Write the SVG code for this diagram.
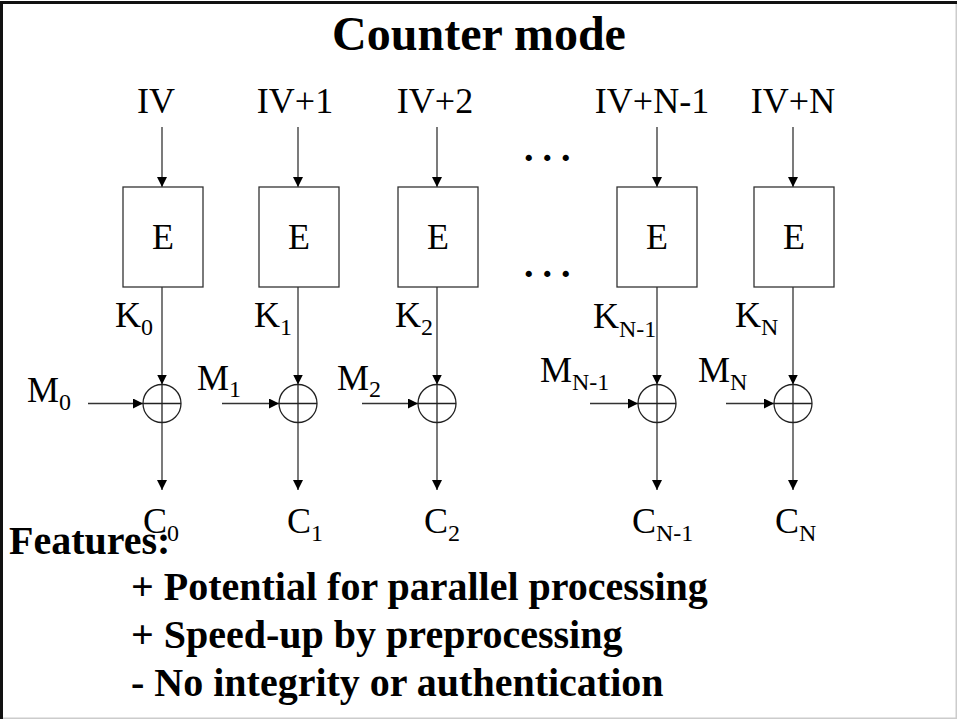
<svg xmlns="http://www.w3.org/2000/svg" width="957" height="719" viewBox="0 0 957 719">
<style>
.t{font-family:"Liberation Serif","Times New Roman",serif;fill:#000}
.lbl{font-size:36px}
.sub{font-size:24px}
.b{font-weight:bold}
.box{fill:#fff;stroke:#333;stroke-width:1.3}
.ln{stroke:#333;stroke-width:1.3;fill:none}
.xor{fill:none;stroke:#222;stroke-width:1.3}
</style>
<defs>
<marker id="ah" viewBox="0 0 10 10" refX="10" refY="5" markerWidth="10" markerHeight="10" markerUnits="userSpaceOnUse" orient="auto">
<path d="M0,0 L10,5 L0,10 z" fill="#000"/>
</marker>
</defs>
<rect x="0" y="0" width="957" height="719" fill="#fff"/>
<g id="frame">
<rect x="0" y="1" width="957" height="3" fill="#111"/>
<rect x="0" y="1" width="3" height="718" fill="#111"/>
<rect x="955.5" y="4" width="1.5" height="715" fill="#ccc"/>
<rect x="3" y="717.5" width="953" height="1.5" fill="#ccc"/>
</g>
<text id="title" class="t b" x="479" y="50" font-size="48" text-anchor="middle">Counter mode</text>
<g id="connectors">
<line class="ln" x1="162" y1="127" x2="162" y2="187" marker-end="url(#ah)"/>
<line class="ln" x1="298" y1="127" x2="298" y2="187" marker-end="url(#ah)"/>
<line class="ln" x1="437" y1="127" x2="437" y2="187" marker-end="url(#ah)"/>
<line class="ln" x1="657" y1="127" x2="657" y2="187" marker-end="url(#ah)"/>
<line class="ln" x1="793" y1="127" x2="793" y2="187" marker-end="url(#ah)"/>
<line class="ln" x1="162" y1="287" x2="162" y2="384.5" marker-end="url(#ah)"/>
<line class="ln" x1="298" y1="287" x2="298" y2="384.5" marker-end="url(#ah)"/>
<line class="ln" x1="437" y1="287" x2="437" y2="384.5" marker-end="url(#ah)"/>
<line class="ln" x1="657" y1="287" x2="657" y2="384.5" marker-end="url(#ah)"/>
<line class="ln" x1="793" y1="287" x2="793" y2="384.5" marker-end="url(#ah)"/>
<line class="ln" x1="88" y1="403.5" x2="143" y2="403.5" marker-end="url(#ah)"/>
<line class="ln" x1="222" y1="403.5" x2="279" y2="403.5" marker-end="url(#ah)"/>
<line class="ln" x1="362" y1="403.5" x2="418" y2="403.5" marker-end="url(#ah)"/>
<line class="ln" x1="590" y1="403.5" x2="638" y2="403.5" marker-end="url(#ah)"/>
<line class="ln" x1="726" y1="403.5" x2="774" y2="403.5" marker-end="url(#ah)"/>
<line class="ln" x1="162" y1="422.5" x2="162" y2="490" marker-end="url(#ah)"/>
<line class="ln" x1="298" y1="422.5" x2="298" y2="490" marker-end="url(#ah)"/>
<line class="ln" x1="437" y1="422.5" x2="437" y2="490" marker-end="url(#ah)"/>
<line class="ln" x1="657" y1="422.5" x2="657" y2="490" marker-end="url(#ah)"/>
<line class="ln" x1="793" y1="422.5" x2="793" y2="490" marker-end="url(#ah)"/>
</g>
<g id="iv-labels" class="t lbl">
<text x="156" y="113" text-anchor="middle">IV</text>
<text x="295" y="113" text-anchor="middle">IV+1</text>
<text x="435" y="113" text-anchor="middle">IV+2</text>
<text x="652" y="113" text-anchor="middle">IV+N-1</text>
<text x="793" y="113" text-anchor="middle">IV+N</text>
</g>
<g id="E0"><rect class="box" x="123" y="187" width="80" height="100"/><text class="t lbl" x="163" y="249" text-anchor="middle">E</text></g>
<g id="E1"><rect class="box" x="259" y="187" width="80" height="100"/><text class="t lbl" x="299" y="249" text-anchor="middle">E</text></g>
<g id="E2"><rect class="box" x="398" y="187" width="80" height="100"/><text class="t lbl" x="438" y="249" text-anchor="middle">E</text></g>
<g id="E3"><rect class="box" x="617" y="187" width="80" height="100"/><text class="t lbl" x="657" y="249" text-anchor="middle">E</text></g>
<g id="E4"><rect class="box" x="754" y="187" width="80" height="100"/><text class="t lbl" x="794" y="249" text-anchor="middle">E</text></g>
<g id="dots" class="t b">
<text x="524" y="161" font-size="38" letter-spacing="9">...</text>
<text x="524" y="277" font-size="38" letter-spacing="9">...</text>
</g>
<g id="X0"><circle class="xor" cx="162" cy="403.5" r="19"/><line class="xor" x1="143" y1="403.5" x2="181" y2="403.5"/><line class="xor" x1="162" y1="384.5" x2="162" y2="422.5"/></g>
<g id="X1"><circle class="xor" cx="298" cy="403.5" r="19"/><line class="xor" x1="279" y1="403.5" x2="317" y2="403.5"/><line class="xor" x1="298" y1="384.5" x2="298" y2="422.5"/></g>
<g id="X2"><circle class="xor" cx="437" cy="403.5" r="19"/><line class="xor" x1="418" y1="403.5" x2="456" y2="403.5"/><line class="xor" x1="437" y1="384.5" x2="437" y2="422.5"/></g>
<g id="X3"><circle class="xor" cx="657" cy="403.5" r="19"/><line class="xor" x1="638" y1="403.5" x2="676" y2="403.5"/><line class="xor" x1="657" y1="384.5" x2="657" y2="422.5"/></g>
<g id="X4"><circle class="xor" cx="793" cy="403.5" r="19"/><line class="xor" x1="774" y1="403.5" x2="812" y2="403.5"/><line class="xor" x1="793" y1="384.5" x2="793" y2="422.5"/></g>
<g id="k-labels" class="t lbl">
<text x="115" y="327">K<tspan class="sub" dy="8">0</tspan></text>
<text x="254" y="327">K<tspan class="sub" dy="8">1</tspan></text>
<text x="395" y="327">K<tspan class="sub" dy="8">2</tspan></text>
<text x="593" y="328">K<tspan class="sub" dy="9">N-1</tspan></text>
<text x="735" y="327">K<tspan class="sub" dy="8">N</tspan></text>
</g>
<g id="m-labels" class="t lbl">
<text x="27" y="402">M<tspan class="sub" dy="8">0</tspan></text>
<text x="197" y="390">M<tspan class="sub" dy="7">1</tspan></text>
<text x="337" y="390">M<tspan class="sub" dy="7">2</tspan></text>
<text x="540" y="382">M<tspan class="sub" dy="8">N-1</tspan></text>
<text x="698" y="382">M<tspan class="sub" dy="8">N</tspan></text>
</g>
<g id="c-labels" class="t lbl">
<text x="143" y="533">C<tspan class="sub" dy="8">0</tspan></text>
<text x="287" y="533">C<tspan class="sub" dy="8">1</tspan></text>
<text x="424" y="533">C<tspan class="sub" dy="8">2</tspan></text>
<text x="632" y="533">C<tspan class="sub" dy="8">N-1</tspan></text>
<text x="775" y="533">C<tspan class="sub" dy="8">N</tspan></text>
</g>
<g id="features" class="t b" font-size="40">
<text x="9" y="554">Features:</text>
<text x="131" y="600">+ Potential for parallel processing</text>
<text x="131" y="648">+ Speed-up by preprocessing</text>
<text x="131" y="696">- No integrity or authentication</text>
</g>
</svg>
